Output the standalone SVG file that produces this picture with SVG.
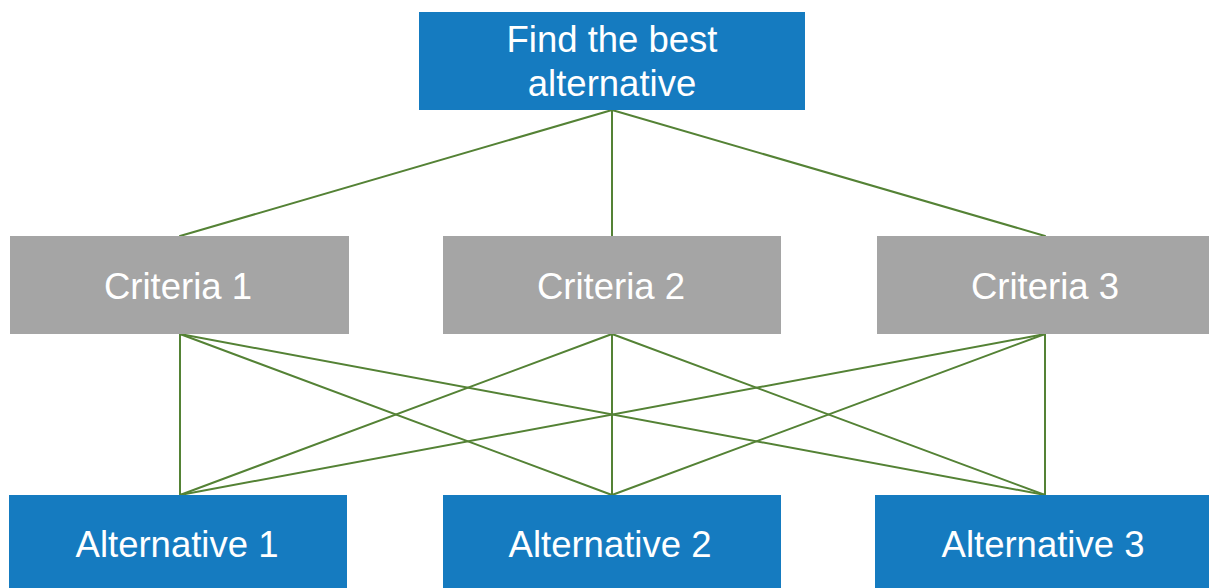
<svg xmlns="http://www.w3.org/2000/svg" width="1209" height="588" viewBox="0 0 1209 588">
  <style>
    .goal, .alt { fill: #157BC0; }
    .crit { fill: #A5A5A5; }
    .label { font-family: "Liberation Sans", Arial, sans-serif; font-size: 36.5px; fill: #FFFFFF; text-anchor: middle; }
    .edge { stroke: #548235; stroke-width: 2; fill: none; stroke-linecap: round; }
  </style>
  <rect width="1209" height="588" fill="#FFFFFF"/>

  <!-- connectors -->
  <g id="connectors">
    <line class="edge" x1="612" y1="110" x2="180" y2="236"/>
    <line class="edge" x1="612" y1="110" x2="612" y2="236"/>
    <line class="edge" x1="612" y1="110" x2="1045" y2="236"/>

    <line class="edge" x1="180" y1="334" x2="180" y2="495"/>
    <line class="edge" x1="180" y1="334" x2="612" y2="495"/>
    <line class="edge" x1="180" y1="334" x2="1045" y2="495"/>

    <line class="edge" x1="612" y1="334" x2="180" y2="495"/>
    <line class="edge" x1="612" y1="334" x2="612" y2="495"/>
    <line class="edge" x1="612" y1="334" x2="1045" y2="495"/>

    <line class="edge" x1="1045" y1="334" x2="180" y2="495"/>
    <line class="edge" x1="1045" y1="334" x2="612" y2="495"/>
    <line class="edge" x1="1045" y1="334" x2="1045" y2="495"/>
  </g>

  <!-- goal -->
  <g id="goal">
    <rect class="goal" x="419" y="12" width="386" height="98"/>
    <text class="label" x="612" y="52">Find the best</text>
    <text class="label" x="612" y="96">alternative</text>
  </g>

  <!-- criteria -->
  <g id="criteria-1">
    <rect class="crit" x="10" y="236" width="339" height="98"/>
    <text class="label" x="178" y="299">Criteria 1</text>
  </g>
  <g id="criteria-2">
    <rect class="crit" x="443" y="236" width="338" height="98"/>
    <text class="label" x="611" y="299">Criteria 2</text>
  </g>
  <g id="criteria-3">
    <rect class="crit" x="877" y="236" width="332" height="98"/>
    <text class="label" x="1045" y="299">Criteria 3</text>
  </g>

  <!-- alternatives -->
  <g id="alternative-1">
    <rect class="alt" x="9" y="495" width="338" height="93"/>
    <text class="label" x="177" y="557">Alternative 1</text>
  </g>
  <g id="alternative-2">
    <rect class="alt" x="443" y="495" width="338" height="93"/>
    <text class="label" x="610" y="557">Alternative 2</text>
  </g>
  <g id="alternative-3">
    <rect class="alt" x="875" y="495" width="334" height="93"/>
    <text class="label" x="1043" y="557">Alternative 3</text>
  </g>
</svg>
